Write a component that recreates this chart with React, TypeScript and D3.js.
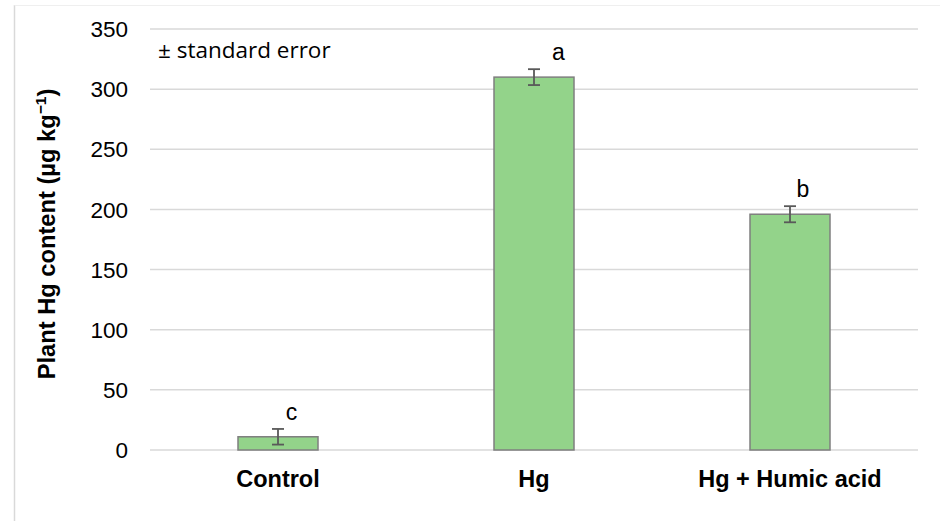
import React from "react";
import * as d3 from "d3";

const categories = ["Control", "Hg", "Hg + Humic acid"];
const means = [11, 310, 196];
const errors = [6.5, 6.6, 6.7];
const letters = ["c", "a", "b"];
const yTicks = [0, 50, 100, 150, 200, 250, 300, 350];

const W = 940;
const H = 521;
const m = { left: 150, right: 22, top: 29, bottom: 71 };
const letterDx = [13.5, 24.5, 13];

export default function App() {
  const x = d3
    .scaleBand<string>()
    .domain(categories)
    .range([m.left, W - m.right])
    .paddingInner(0.6875)
    .paddingOuter(0.34375);
  const y = d3.scaleLinear().domain([0, 350]).range([H - m.bottom, m.top]);
  const bw = x.bandwidth();
  const font = "'Liberation Sans', Arial, sans-serif";

  return (
    <svg
      width={W}
      height={H}
      style={{ position: "absolute", left: 0, top: 0, background: "#fff" }}
    >
      <line x1={14.5} x2={14.5} y1={5} y2={H} stroke="#d9d9d9" strokeWidth={1.5} />
      <line x1={14.5} x2={W} y1={5.5} y2={5.5} stroke="#efefef" strokeWidth={1} />
      {yTicks.map((t) => (
        <g key={t}>
          <line
            x1={m.left}
            x2={W - m.right}
            y1={y(t)}
            y2={y(t)}
            stroke="#d9d9d9"
            strokeWidth={1.5}
          />
          <text
            x={128}
            y={y(t)}
            dy="0.36em"
            textAnchor="end"
            fontFamily={font}
            fontSize={22.5}
            fill="#000"
          >
            {t}
          </text>
        </g>
      ))}
      {categories.map((c, i) => {
        const cx = (x(c) as number) + bw / 2;
        return (
          <g key={c}>
            <rect
              x={x(c)}
              y={y(means[i])}
              width={bw}
              height={y(0) - y(means[i])}
              fill="#93d38a"
              stroke="#7f7f7f"
              strokeWidth={1.5}
            />
            <g stroke="#595959" strokeWidth={1.8}>
              <line x1={cx} x2={cx} y1={y(means[i] + errors[i])} y2={y(means[i] - errors[i])} />
              <line x1={cx - 6} x2={cx + 6} y1={y(means[i] + errors[i])} y2={y(means[i] + errors[i])} />
              <line x1={cx - 6} x2={cx + 6} y1={y(means[i] - errors[i])} y2={y(means[i] - errors[i])} />
            </g>
            <text
              x={cx + letterDx[i]}
              y={y(means[i] + errors[i]) - 9}
              textAnchor="middle"
              fontFamily={font}
              fontSize={23}
              fill="#000"
            >
              {letters[i]}
            </text>
            <text
              x={cx}
              y={487}
              textAnchor="middle"
              fontFamily={font}
              fontSize={23.5}
              fontWeight="bold"
              fill="#000"
            >
              {c}
            </text>
          </g>
        );
      })}
      <text
        x={158}
        y={58}
        fontFamily="'Open Sans', Lato, sans-serif"
        fontSize={22.5}
        fill="#000"
      >
        ± standard error
      </text>
      <text
        transform={`translate(55, 234) rotate(-90)`}
        textAnchor="middle"
        fontFamily={font}
        fontSize={23.7}
        fontWeight="bold"
        fill="#000"
      >
        Plant Hg content (µg kg
        <tspan dy="-9" fontSize={15.5}>−1</tspan>
        <tspan dy="9">)</tspan>
      </text>
    </svg>
  );
}
